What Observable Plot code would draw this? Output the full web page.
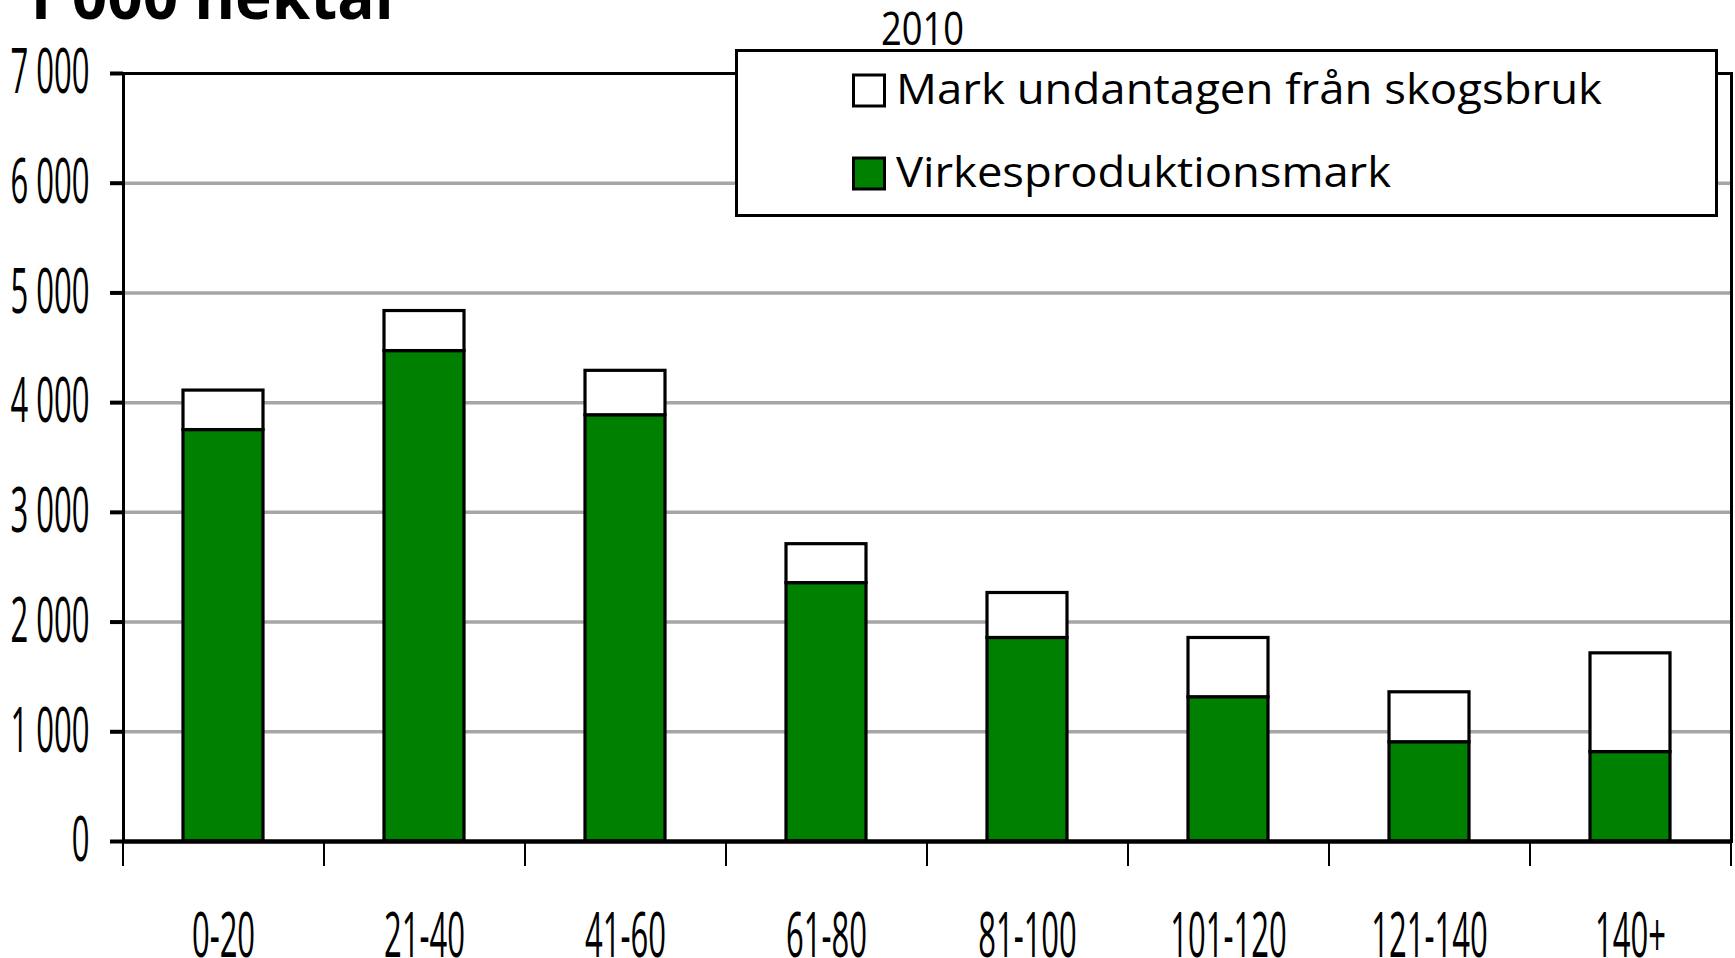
<!DOCTYPE html>
<html><head><meta charset="utf-8">
<script src="https://cdn.jsdelivr.net/npm/d3@7"></script>
<script src="https://cdn.jsdelivr.net/npm/@observablehq/plot@0.6"></script>
<style>
html,body{margin:0;padding:0;background:#fff;overflow:hidden}
#chart svg{display:block}
</style></head><body><div id="chart"></div>
<script>
// ---- data ----
const categories = ["0-20","21-40","41-60","61-80","81-100","101-120","121-140","140+"];
const seriesNames = ["Virkesproduktionsmark","Mark undantagen från skogsbruk"];
const virkesproduktionsmark = [3750,4470,3885,2355,1855,1315,905,815];
const markUndantagen = [360,365,405,355,410,540,455,900];
const yTicks = [0,1000,2000,3000,4000,5000,6000,7000];
const yUnit = "1 000 hektar";
const year = "2010";
const seriesColors = ["#008000","white"];

const data = categories.flatMap((c,i)=>[
  {category:c, series:seriesNames[0], value:virkesproduktionsmark[i]},
  {category:c, series:seriesNames[1], value:markUndantagen[i]}
]);

// ---- layout ----
const W=1735,H=958, mL=123, mR=4, mT=73, mB=117;
const step=(W-mL-mR)/categories.length;
const fmt = d => d3.format(",")(d).replace(/,/g," ");
const condenseK = 0.5;

const plot = Plot.plot({
  width:W, height:H, marginLeft:mL, marginRight:mR, marginTop:mT, marginBottom:mB,
  style:{fontFamily:"'Open Sans', sans-serif", background:"white", overflow:"visible", color:"black"},
  x:{domain:categories, paddingInner:0.6, paddingOuter:0.3, axis:null},
  y:{domain:[0,7000], axis:null},
  color:{domain:seriesNames, range:seriesColors},
  marks:[
    Plot.ruleY(yTicks.filter(d=>d>0 && d<7000), {stroke:"#a6a6a6", strokeWidth:3.5}),
    Plot.frame({stroke:"black", strokeWidth:3}),
    Plot.barY(data, {x:"category", y:"value", fill:"series", stroke:"black", strokeWidth:3.2, order:seriesNames}),
    Plot.ruleY([0], {stroke:"black", strokeWidth:4.5}),
    Plot.axisY({ticks:yTicks, tickSize:13, tickPadding:21, tickFormat:fmt, fontSize:62, strokeWidth:4, label:null}),
    Plot.axisX({ticks:categories, tickSize:25, tickFormat:()=>"", dx:-step/2, strokeWidth:2, label:null}),
    Plot.axisX({ticks:[categories[categories.length-1]], tickSize:25, tickFormat:()=>"", dx:step/2, strokeWidth:2, label:null}),
    Plot.axisX({ticks:categories, tickSize:0, tickPadding:71, fontSize:62, label:null})
  ]
});

document.getElementById("chart").appendChild(plot);
const svg = d3.select(plot);

// condense axis labels horizontally (the reference text is strongly narrowed)
svg.selectAll("text").each(function(){
  const t=this;
  const x=t.getAttribute("x");
  let tr=t.getAttribute("transform")||"";
  if (x!=null && isFinite(+x)){ tr += ` translate(${+x},0)`; t.removeAttribute("x"); }
  t.setAttribute("transform", `${tr} scale(${condenseK},1)`);
});

// titles
svg.append("text").attr("x",20).attr("y",19).attr("font-size",64).attr("font-weight","bold")
  .attr("text-anchor","start").attr("fill","black")
  .attr("textLength",383).attr("lengthAdjust","spacingAndGlyphs").text(yUnit);
svg.append("text").attr("x",881).attr("y",45).attr("font-size",46)
  .attr("text-anchor","start").attr("fill","black")
  .attr("textLength",83).attr("lengthAdjust","spacingAndGlyphs").text(year);

// legend
const color = plot.scale("color");
const lg = svg.append("g").attr("text-anchor","start");
lg.append("rect").attr("x",736.5).attr("y",50.5).attr("width",980).attr("height",165)
  .attr("fill","white").attr("stroke","black").attr("stroke-width",3);
const legendItems = [seriesNames[1], seriesNames[0]];
const legendTop = [75, 158];
const legendWidth = [706, 495];
legendItems.forEach((name,i)=>{
  lg.append("rect").attr("x",853.5).attr("y",legendTop[i]).attr("width",31).attr("height",31)
    .attr("fill",color.apply(name)).attr("stroke","black").attr("stroke-width",3);
  lg.append("text").attr("x",896).attr("y",legendTop[i]+29).attr("font-size",42).attr("fill","black")
    .attr("text-anchor","start")
    .attr("textLength",legendWidth[i]).attr("lengthAdjust","spacingAndGlyphs").text(name);
});
</script></body></html>
